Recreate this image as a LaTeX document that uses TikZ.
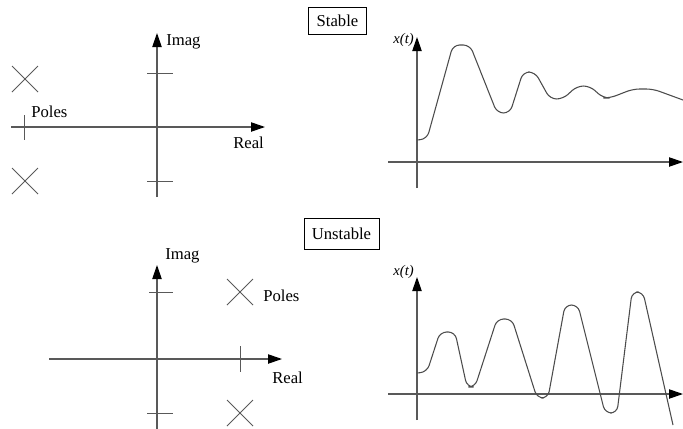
\documentclass[tikz,border=0pt]{standalone}
\usepackage{fontspec}
\setmainfont{Liberation Serif}
\usetikzlibrary{arrows.meta, positioning}

\begin{document}
\begin{tikzpicture}[x=0.75pt, y=-0.75pt, >={Triangle[length=10.5pt, width=7pt, color=black]},
  axis/.style={draw=black!65, line width=0.9pt},
  tickln/.style={draw=black!65, line width=0.7pt},
  resp/.style={draw=black!70, line width=0.8pt, rounded corners=5pt},
  lbl/.style={inner sep=0pt, font=\fontsize{12.5}{14}\selectfont},
  tlbl/.style={inner sep=0pt, font=\fontsize{11}{13}\selectfont\itshape}]
  \useasboundingbox (0,0) rectangle (683,429);

  % stable
  \coordinate (s re0) at (11,127);   \coordinate (s re1) at (265,127);
  \coordinate (s im0) at (157,197);  \coordinate (s im1) at (157,33);
  \draw[axis, ->] (s re0) -- (s re1);
  \draw[axis, ->] (s im0) -- (s im1);
  \draw[tickln] (147,73) -- (173,73);
  \draw[tickln] (147,181) -- (173,181);
  \draw[tickln] (24,115) -- (24,140);
  \coordinate (s p1) at (25,79);
  \coordinate (s p2) at (25,181);
  \draw[tickln] (s p1) +(-13,-13) -- +(13,13) +(-13,13) -- +(13,-13);
  \draw[tickln] (s p2) +(-13,-13) -- +(13,13) +(-13,13) -- +(13,-13);
  \node[lbl, anchor=west] (s poles) at (31,112) {Poles};
  \node[lbl, anchor=west] (s imag) at (166,42) {Imag};
  \node[lbl, anchor=west] (s real) at (233,143) {Real};
  \node[draw, lbl, inner xsep=6pt, minimum height=27*0.75pt] (stable) at (337.5,21) {Stable};

  \coordinate (s t0) at (388,162);  \coordinate (s t1) at (683,162);
  \coordinate (s x0) at (417,188);  \coordinate (s x1) at (417,37);
  \draw[axis, ->] (s t0) -- (s t1);
  \draw[axis, ->] (s x0) -- (s x1);
  \node[tlbl, anchor=east] (s xt) at (414,40) {x(t)};
  \draw[resp] (417,140) -- (427,139) -- (453,45) -- (470,45) -- (497,113)
    -- (510,113) -- (523,72) -- (535,72) -- (550,99) -- (563,99) -- (577,86)
    -- (590,86) -- (603,98) -- (610,98) -- (633,89) -- (653,89) -- (683,100);

  % unstable
  \coordinate (u re0) at (49,359);   \coordinate (u re1) at (282,359);
  \coordinate (u im0) at (157,429);  \coordinate (u im1) at (157,265);
  \draw[axis, ->] (u re0) -- (u re1);
  \draw[axis, ->] (u im0) -- (u im1);
  \draw[tickln] (149,292) -- (173,292);
  \draw[tickln] (147,413) -- (173,413);
  \draw[tickln] (240,346) -- (240,372);
  \coordinate (u p1) at (240,292);
  \coordinate (u p2) at (240,413);
  \draw[tickln] (u p1) +(-13,-13) -- +(13,13) +(-13,13) -- +(13,-13);
  \draw[tickln] (u p2) +(-13,-13) -- +(13,13) +(-13,13) -- +(13,-13);
  \node[lbl, anchor=west] (u poles) at (263,296) {Poles};
  \node[lbl, anchor=west] (u imag) at (165,256) {Imag};
  \node[lbl, anchor=west] (u real) at (272,378) {Real};
  \node[draw, lbl, inner xsep=6pt, minimum height=31*0.75pt] (unstable) at (341.5,234) {Unstable};

  \coordinate (u t0) at (388,394);  \coordinate (u t1) at (683,394);
  \coordinate (u x0) at (417,420);  \coordinate (u x1) at (417,277);
  \draw[axis, ->] (u t0) -- (u t1);
  \draw[axis, ->] (u x0) -- (u x1);
  \node[tlbl, anchor=east] (u xt) at (414,272) {x(t)};
  \draw[resp] (417,373) -- (427,372) -- (440,332) -- (455,332) -- (467,387)
    -- (475,387) -- (497,319) -- (512,319) -- (537,398) -- (548,398)
    -- (565,305) -- (578,305) -- (605,413) -- (617,413) -- (632,292)
    -- (643,292) -- (673,425);
\end{tikzpicture}
\end{document}
